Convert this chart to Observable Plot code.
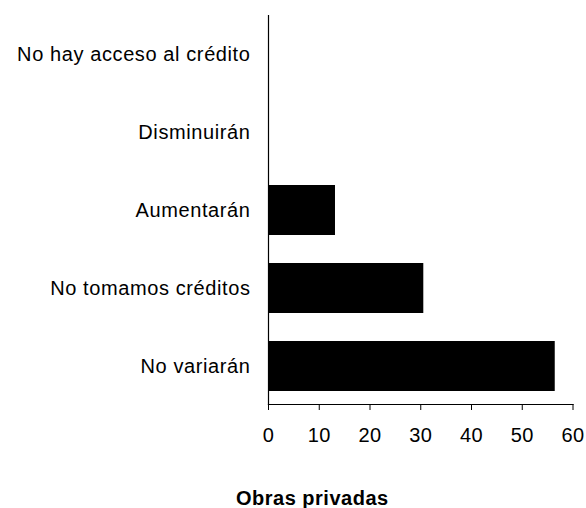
<!DOCTYPE html>
<html><head><meta charset="utf-8">
<script src="https://cdn.jsdelivr.net/npm/d3@7"></script>
<script src="https://cdn.jsdelivr.net/npm/@observablehq/plot@0.6"></script>
<style>
body{margin:0;background:#fff;font-family:"Liberation Sans",Arial,sans-serif;}
#title{font-weight:bold;font-size:20px;letter-spacing:0.5px;line-height:24px;padding-left:236px;padding-top:6px;color:#000;}
</style>
</head><body>
<div id="chart"></div>
<div id="title"></div>
<script>
const categories = ["No hay acceso al crédito", "Disminuirán", "Aumentarán", "No tomamos créditos", "No variarán"];
const values = [0, 0, 13.2, 30.6, 56.5];
const xTicks = [0, 10, 20, 30, 40, 50, 60];
const titleText = "Obras privadas";

const data = categories.map((c, i) => ({category: c, value: values[i]}));

const plot = Plot.plot({
  width: 586,
  height: 480,
  marginTop: 15,
  marginBottom: 76,
  marginLeft: 268,
  marginRight: 13.5,
  style: {fontFamily: '"Liberation Sans", Arial, sans-serif', fontSize: "20px", color: "#000", background: "#fff"},
  x: {domain: [0, 60], ticks: xTicks, label: null},
  y: {domain: categories, paddingInner: 0.363, paddingOuter: 0.16, label: null},
  marks: [
    Plot.barX(data, {x: "value", y: "category", fill: "#000"}),
    Plot.frame({anchor: "left", stroke: "#000", strokeWidth: 1.2}),
    Plot.frame({anchor: "bottom", stroke: "#000", strokeWidth: 1.2}),
    Plot.axisX({ticks: xTicks, tickSize: 6, tickPadding: 17, label: null, stroke: "#000", fill: "#000"}),
    Plot.axisY({tickSize: 0, tickPadding: 18, label: null, fill: "#000"})
  ]
});
plot.querySelectorAll("g[aria-label='y-axis tick label'] text").forEach(t => t.setAttribute("letter-spacing", "0.6"));
plot.querySelectorAll("g[aria-label='x-axis tick label'] text").forEach(t => t.setAttribute("letter-spacing", "0.3"));
document.getElementById("chart").appendChild(plot);
document.getElementById("title").textContent = titleText;
</script>
</body></html>
